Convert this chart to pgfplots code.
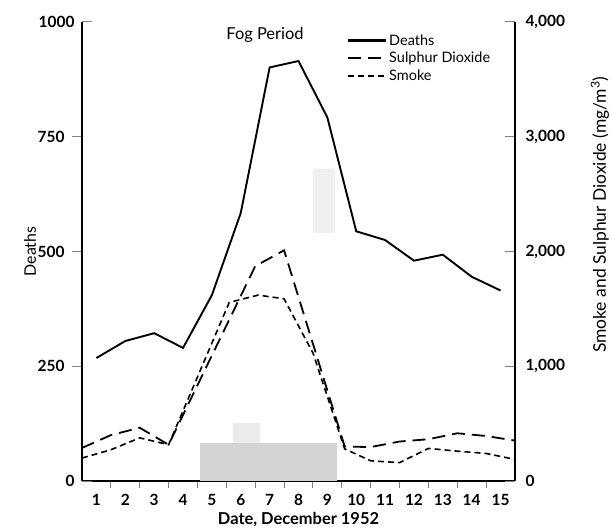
\documentclass[border=0pt]{standalone}
\usepackage{fontspec}
\setmainfont{Lato}
\usepackage{pgfplots}
\pgfplotsset{compat=1.18}
\begin{document}
\begin{tikzpicture}
\useasboundingbox (-82bp,-48bp) rectangle (530bp,481bp);
\begin{axis}[
  at={(0,0)}, anchor=south west,
  scale only axis, width=433bp, height=459bp,
  xmin=0.5, xmax=15.5, ymin=0, ymax=1000,
  axis x line*=bottom, axis y line*=left,
  axis line style={line width=1.1bp},
  xtick={1,...,15},
  minor xtick={1.5,2.5,...,14.5},
  major x tick style={draw=none},
  minor x tick style={line width=1bp},
  minor tick length=7bp,
  ytick={250,500,750},
  major tick length=10bp,
  tick align=outside,
  y tick style={line width=1bp},
  extra y ticks={0,1000},
  extra y tick style={tick align=inside},
  /pgf/number format/assume math mode=true,
  /pgf/number format/1000 sep={},
  ticklabel style={font=\fontsize{15.5}{17}\selectfont\bfseries},
  yticklabel style={xshift=-4bp},
  xlabel={Date, December 1952},
  xlabel style={font=\fontsize{16.5}{18}\selectfont\bfseries, at={(axis description cs:0.5,-0.083)}, anchor=center},
  ylabel={Deaths},
  ylabel style={font=\fontsize{16}{18}\selectfont, at={(axis description cs:-0.12,0.5)}, anchor=center},
  clip=false,
]
\addplot[draw=none, fill=black!17] coordinates {(4.6,0) (4.6,83) (9.33,83) (9.33,0)} -- cycle;
\addplot[draw=none, fill=black!8] coordinates {(5.73,83) (5.73,127) (6.67,127) (6.67,83)} -- cycle;
\addplot[draw=none, fill=black!6] coordinates {(8.5,541) (8.5,679) (9.26,679) (9.26,541)} -- cycle;
\addplot[black, line width=1.9bp] coordinates {
(1,268) (2,305) (3,322) (4,290) (5,405) (6,584) (7,901) (8,915) (9,792) (10,544) (11,525) (12,480) (13,493) (14,445) (15,415)};
\node[font=\fontsize{16.5}{18}\selectfont] at (axis cs:6.84,972) {Fog Period};
\end{axis}
\begin{axis}[
  at={(0,0)}, anchor=south west,
  scale only axis, width=433bp, height=459bp,
  xmin=0.5, xmax=15.5, ymin=0, ymax=4000,
  axis x line=none, axis y line*=right,
  axis line style={line width=1.1bp},
  ytick={0,1000,...,4000},
  tick align=inside,
  major tick length=10bp,
  y tick style={line width=1bp},
  /pgf/number format/assume math mode=true,
  /pgf/number format/1000 sep={,},
  ticklabel style={font=\fontsize{15.5}{17}\selectfont\bfseries},
  yticklabel style={xshift=7bp},
  ylabel={Smoke and Sulphur Dioxide (mg/m\textsuperscript{3})},
  ylabel style={font=\fontsize{17.5}{19}\selectfont, rotate=0, at={(axis description cs:1.196,0.58)}, anchor=center},
  legend style={draw=none, fill=none, at={(axis description cs:0.605,0.982)}, anchor=north west,
    font=\fontsize{14.5}{16}\selectfont, row sep=1.5bp, legend cell align=left},
  legend image code/.code={\path (0cm,0cm) -- (38bp,0cm); \draw[#1] (0cm,0cm) -- (32bp,0cm);},
  clip=false,
]
\addlegendimage{black, solid, line width=2.1bp}
\addlegendentry{Deaths}
\addplot[black, line width=1.8bp, dash pattern=on 13bp off 7bp] coordinates {
(0.5,288) (1.5,400) (2.5,464) (3.5,316) (6.5,1872) (7.5,2010) (9.6,300) (10.5,296) (11.5,344) (12.5,364) (13.5,416) (14.5,392) (15.5,352)};
\addlegendentry{Sulphur Dioxide}
\addplot[black, line width=1.6bp, dash pattern=on 6bp off 4bp] coordinates {
(0.5,200) (1.5,272) (2.5,376) (3.5,316) (5.6,1556) (6.6,1620) (7.5,1588) (8.5,1116) (9.6,280) (10.5,176) (11.5,160) (12.5,284) (13.5,260) (14.5,240) (15.5,188)};
\addlegendentry{Smoke}
\end{axis}
\end{tikzpicture}
\end{document}
